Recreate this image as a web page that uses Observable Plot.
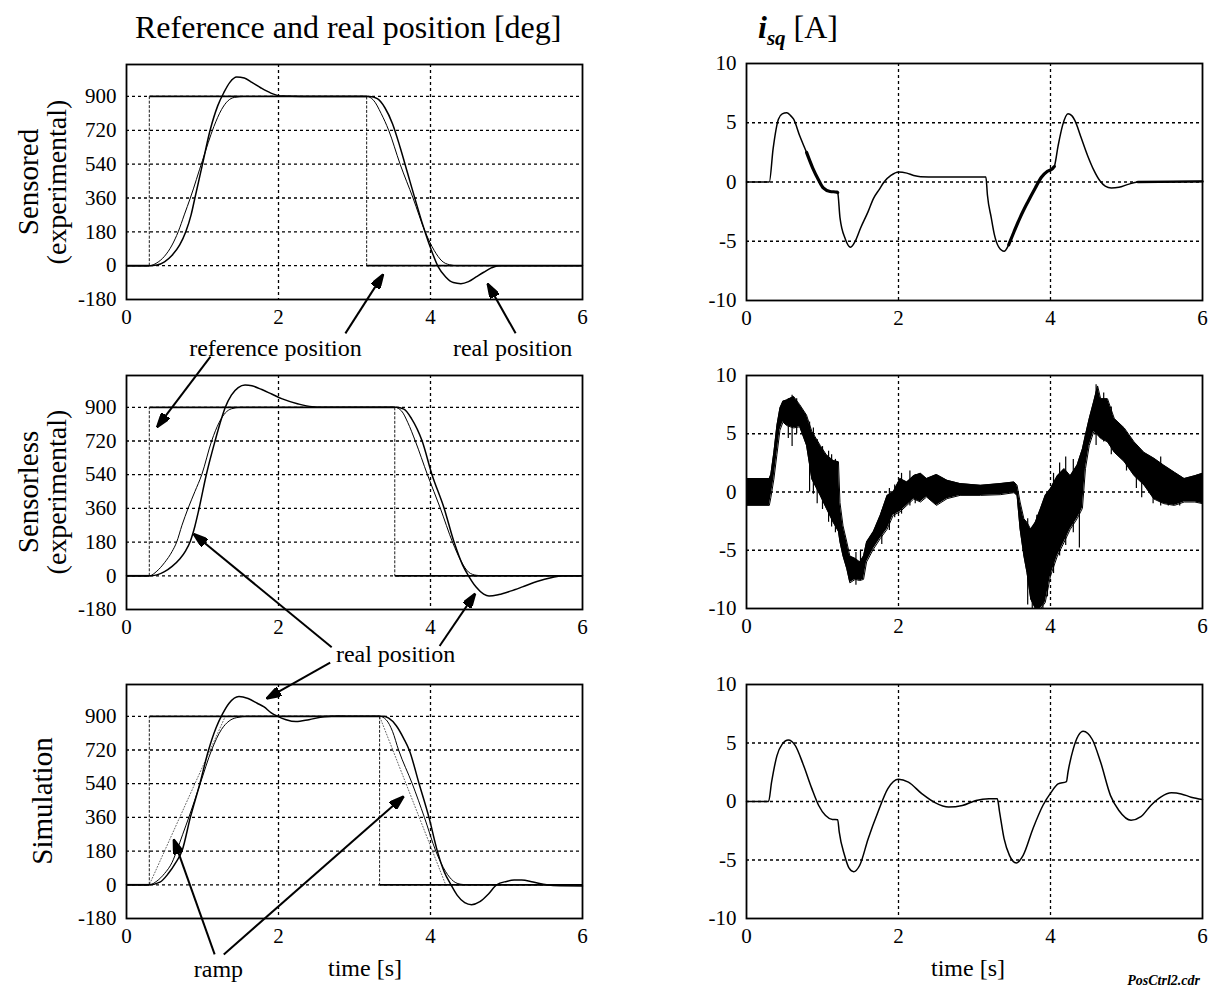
<!DOCTYPE html>
<html><head><meta charset="utf-8">
<script src="https://cdn.jsdelivr.net/npm/d3@7"></script>
<script src="https://cdn.jsdelivr.net/npm/@observablehq/plot@0.6"></script>
<style>
body{margin:0;background:#fff;}
#fig{position:relative;width:1219px;height:987px;background:#fff;font-family:"Liberation Serif","Times New Roman",serif;color:#000;overflow:hidden}
.abs{position:absolute;white-space:nowrap;line-height:1}
.rot{transform:translate(-50%,-50%) rotate(-90deg)}
</style></head><body><div id="fig"></div>
<script>
// ---------- data (time [s], value) ----------
const timeTicks = [0, 2, 4, 6];
const posTicks = [-180, 0, 180, 360, 540, 720, 900];
const posGrid = [0, 180, 360, 540, 720, 900];
const curTicks = [-10, -5, 0, 5, 10];
const curGrid = [-5, 0, 5];

// Sensored (experimental) position [deg]
const sensoredRef = [[0,0],[0.3,0],[0.3,900],[3.16,900],[3.16,0],[6,0]];
const sensoredEst = [[0,0],[0.3,0],[0.4,15],[0.5,50],[0.6,110],[0.68,180],[0.76,270],[0.84,360],[1.0,560],[1.15,740],[1.25,830],[1.33,875],[1.42,895],[1.55,900],[3.16,900],[3.25,880],[3.35,810],[3.45,720],[3.6,540],[3.77,360],[3.93,180],[4.05,80],[4.15,25],[4.25,5],[4.35,0],[6,0]];
const sensoredReal = [[0,0],[0.3,0],[0.4,3],[0.5,20],[0.6,55],[0.7,110],[0.78,180],[0.85,270],[0.9,360],[1.0,540],[1.1,720],[1.2,850],[1.28,920],[1.36,975],[1.45,1003],[1.55,998],[1.65,975],[1.77,945],[1.9,918],[2.05,902],[2.3,900],[3.2,900],[3.3,888],[3.4,840],[3.5,755],[3.6,630],[3.7,490],[3.8,350],[3.9,215],[4.0,95],[4.1,-5],[4.2,-60],[4.3,-90],[4.4,-96],[4.5,-85],[4.6,-60],[4.7,-35],[4.8,-12],[4.9,0],[6,0]];

// Sensorless (experimental) position [deg]
const sensorlessRef = [[0,0],[0.3,0],[0.3,900],[3.53,900],[3.53,0],[6,0]];
const sensorlessEst = [[0,0],[0.3,0],[0.4,25],[0.5,70],[0.6,130],[0.66,180],[0.73,270],[0.81,360],[0.9,450],[0.99,540],[1.12,720],[1.22,820],[1.3,870],[1.38,892],[1.5,900],[3.53,900],[3.62,880],[3.7,820],[3.8,720],[3.96,540],[4.13,360],[4.29,180],[4.4,80],[4.5,20],[4.6,3],[4.7,0],[6,0]];
const sensorlessReal = [[0,0],[0.3,0],[0.4,5],[0.5,22],[0.6,50],[0.7,90],[0.78,135],[0.84,185],[0.9,265],[0.95,350],[1.05,540],[1.165,720],[1.25,840],[1.3,900],[1.38,965],[1.47,1005],[1.56,1019],[1.65,1015],[1.78,995],[1.91,971],[2.05,945],[2.26,918],[2.44,903],[2.6,900],[3.55,900],[3.65,890],[3.75,840],[3.89,720],[4.02,540],[4.18,360],[4.31,180],[4.42,60],[4.5,0],[4.6,-60],[4.7,-98],[4.77,-108],[4.9,-100],[5.05,-82],[5.21,-59],[5.4,-30],[5.6,-9],[5.75,0],[6,0]];

// Simulation position [deg]
const simRef = [[0,0],[0.3,0],[0.3,900],[3.33,900],[3.33,0],[6,0]];
const simRamp = [[0,0],[0.3,0],[1.3,900],[3.33,900],[4.2,0],[6,0]];
const simEst = [[0,0],[0.3,0],[0.4,20],[0.5,60],[0.6,120],[0.66,180],[0.74,270],[0.82,360],[0.97,540],[1.12,720],[1.25,830],[1.35,875],[1.45,893],[1.6,900],[3.33,900],[3.42,880],[3.5,820],[3.58,720],[3.76,540],[3.92,360],[4.07,180],[4.2,70],[4.3,20],[4.4,3],[4.5,0],[6,0]];
const simReal = [[0,0],[0.3,0],[0.44,14],[0.55,60],[0.65,120],[0.73,180],[0.84,360],[0.965,540],[1.08,720],[1.18,840],[1.26,910],[1.35,970],[1.48,1006],[1.6,995],[1.72,970],[1.81,950],[1.9,920],[1.99,900],[2.1,882],[2.23,872],[2.4,882],[2.6,898],[2.8,902],[3.0,900],[3.38,900],[3.45,890],[3.55,850],[3.65,780],[3.72,720],[3.85,540],[3.98,360],[4.09,180],[4.18,70],[4.27,0],[4.35,-55],[4.45,-95],[4.54,-106],[4.65,-90],[4.76,-50],[4.87,0],[5.0,18],[5.1,25],[5.2,26],[5.35,15],[5.53,0],[5.7,-5],[6,-6]];

// Sensored i_sq [A]
const sensoredIsq = [[0,0],[0.3,0],[0.35,2.8],[0.42,5.3],[0.47,5.75],[0.53,5.85],[0.58,5.6],[0.62,5.3],[0.7,3.9],[0.79,2.5],[0.87,1.2],[0.95,0.15],[1.01,-0.5],[1.1,-0.8],[1.19,-0.85],[1.2,-0.9],[1.23,-3.0],[1.3,-4.8],[1.37,-5.5],[1.43,-5.0],[1.5,-3.9],[1.6,-2.5],[1.67,-1.4],[1.75,-0.6],[1.81,0],[1.9,0.55],[2.0,0.85],[2.11,0.75],[2.2,0.55],[2.29,0.45],[2.5,0.42],[3.15,0.42],[3.17,-1.1],[3.22,-3.0],[3.26,-4.4],[3.32,-5.5],[3.39,-5.85],[3.45,-5.3],[3.52,-4.2],[3.6,-3.0],[3.7,-1.7],[3.8,-0.5],[3.88,0.4],[3.96,0.9],[4.03,1.15],[4.05,1.3],[4.1,3.05],[4.16,4.8],[4.23,5.75],[4.28,5.6],[4.32,5.2],[4.4,3.8],[4.49,2.2],[4.57,1.0],[4.65,0.1],[4.72,-0.35],[4.8,-0.5],[4.9,-0.45],[5.02,-0.2],[5.15,0],[6,0.05]];
const sensoredNoisy = [[0.74,1.2,3.2],[3.45,4.05,3.2],[5.15,6,2.4]];

// Sensorless i_sq [A]: noisy band (lower / upper envelope) and spikes
const bandT  = [0,0.3,0.32,0.36,0.4,0.44,0.48,0.53,0.62,0.7,0.79,0.86,0.97,1.05,1.14,1.21,1.23,1.27,1.32,1.36,1.43,1.49,1.54,1.58,1.67,1.76,1.85,1.93,2.02,2.11,2.2,2.29,2.37,2.5,2.64,2.81,3.08,3.34,3.52,3.56,3.6,3.65,3.69,3.74,3.8,3.87,3.93,4.0,4.09,4.18,4.26,4.35,4.42,4.46,4.51,4.57,4.62,4.66,4.75,4.84,4.97,5.1,5.23,5.36,5.49,5.63,5.76,5.9,6.0];
const bandHi = [1.15,1.15,1.5,3.4,5.7,7.2,7.8,7.9,8.2,7.5,6.6,5.2,4.0,3.2,2.7,2.6,-0.9,-2.9,-4.3,-5.5,-5.7,-6.0,-5.5,-4.3,-3.4,-2.0,-0.3,0,1.15,0.86,1.4,1.6,1.15,1.5,1.0,0.72,0.57,0.72,0.86,0.57,-0.86,-2.3,-2.6,-3.2,-2.6,-1.4,-0.3,0.3,1.4,2.0,1.4,2.3,3.7,4.9,6.3,7.8,9.1,8.0,8.0,6.3,5.5,4.3,3.4,2.9,2.3,1.7,1.15,1.4,1.6];
const bandLo = [-1.15,-1.15,-0.5,1.1,3.2,5.3,6.0,5.7,5.5,5.6,4.0,1.1,-0.3,-1.4,-2.6,-3.4,-4.3,-5.5,-6.6,-7.8,-7.5,-7.6,-7.5,-6.0,-4.9,-4.0,-3.2,-2.0,-1.7,-1.15,-0.6,-0.86,-0.43,-1.15,-0.57,-0.29,-0.29,-0.23,-0.06,-0.3,-3.2,-5.5,-6.9,-9.2,-10,-10,-9.5,-7.2,-5.5,-4.3,-3.2,-2.3,-1.4,2.0,4.0,5.2,4.9,4.6,4.3,3.4,2.6,1.4,0.6,-0.6,-1.0,-1.15,-0.86,-0.86,-1.0];
const spikes = [[0.55,4.6,8.0],[0.6,3.9,8.3],[0.66,5.0,8.0],[0.83,0.0,6.0],[0.88,-0.2,5.5],[0.93,-1.0,4.5],[1.0,-1.5,3.9],[1.08,-2.6,3.5],[1.12,-3.0,3.2],[1.17,-3.5,2.8],[1.44,-8.0,-5.2],[1.5,-7.6,-5.0],[1.78,-4.5,-1.6],[1.88,-3.3,0.3],[1.95,-2.2,0.6],[2.04,-1.9,1.6],[2.15,-1.2,1.8],[2.22,-1.0,1.5],[3.7,-9.7,-2.3],[3.76,-10,-3.0],[3.82,-10,-2.0],[3.9,-10,-1.0],[3.96,-9.0,-0.1],[4.04,-7.0,1.6],[4.12,-5.5,2.5],[4.2,-4.6,3.0],[4.3,-3.5,2.8],[4.38,-4.8,2.4],[4.6,4.0,9.2],[4.7,4.3,8.5],[4.8,3.2,7.3],[5.0,1.8,4.5],[5.13,0.3,3.6],[5.2,-0.5,3.5],[5.35,-1.0,2.5],[5.45,-1.2,3.0],[5.55,-1.2,2.0],[5.7,-1.2,1.2]];

// Simulation i_sq [A]
const simIsq = [[0,0],[0.29,0],[0.33,1.65],[0.4,3.9],[0.47,4.9],[0.55,5.25],[0.64,4.8],[0.75,3.1],[0.86,1.1],[0.95,-0.34],[1.04,-1.2],[1.13,-1.53],[1.2,-1.55],[1.22,-2.6],[1.29,-4.6],[1.35,-5.7],[1.41,-6.0],[1.49,-5.45],[1.6,-3.2],[1.73,-0.9],[1.86,1.1],[2.0,1.9],[2.13,1.65],[2.31,0.65],[2.48,-0.1],[2.66,-0.48],[2.84,-0.34],[3.02,0.09],[3.19,0.23],[3.3,0.23],[3.33,-0.9],[3.39,-3.2],[3.46,-4.6],[3.55,-5.25],[3.64,-4.6],[3.77,-2.3],[3.9,-0.34],[4.01,0.8],[4.1,1.5],[4.21,1.7],[4.23,2.5],[4.3,4.5],[4.43,6.0],[4.55,5.3],[4.66,3.35],[4.79,0.5],[4.9,-0.77],[5.06,-1.6],[5.19,-1.3],[5.32,-0.34],[5.45,0.37],[5.59,0.74],[5.72,0.65],[5.85,0.37],[6.0,0.17]];

// Annotations in data coordinates of each panel: arrows [t1,v1,t2,v2] (tail -> tip), labels [t,v,text]
const sensoredArrows = [[2.88,-360,3.38,-45],[5.12,-360,4.75,-95]];
const sensoredLabels = [[1.96,-441,"reference position"],[5.08,-441,"real position"]];
const sensorlessArrows = [[1.105,1171,0.40,793],[2.70,-382,0.88,225],[4.12,-375,4.59,-94]];
const sensorlessLabels = [[3.54,-420,"real position"]];
const simArrows = [[2.68,1187,1.84,994],[1.16,-372,0.62,244],[1.28,-372,3.65,473]];
const simLabels = [[1.21,-452,"ramp"]];

// ---------- rendering ----------
const FONT = '"Liberation Serif","Times New Roman",serif';
const fig = document.getElementById("fig");
const pts = a => a.map(([t, v]) => ({t, v}));
const fmt = d => String(d);

function filledArrow(color) {
  const ns = "http://www.w3.org/2000/svg";
  const m = document.createElementNS(ns, "marker");
  m.setAttribute("viewBox", "-15 -5 15 10");
  m.setAttribute("markerWidth", 15);
  m.setAttribute("markerHeight", 10);
  m.setAttribute("markerUnits", "userSpaceOnUse");
  m.setAttribute("orient", "auto");
  m.setAttribute("refX", 0);
  m.setAttribute("refY", 0);
  const p = document.createElementNS(ns, "path");
  p.setAttribute("d", "M-15,-5L0,0L-15,5Z");
  p.setAttribute("fill", color === "currentColor" ? "#000" : color);
  m.appendChild(p);
  return m;
}

function annotationMarks(arrows, labels) {
  return [
    Plot.link(arrows.map(([t1, v1, t2, v2]) => ({t1, v1, t2, v2})), {x1: "t1", y1: "v1", x2: "t2", y2: "v2", stroke: "black", strokeWidth: 2, markerEnd: filledArrow}),
    Plot.text(labels.map(([t, v, text]) => ({t, v, text})), {x: "t", y: "v", text: "text", fontSize: 24, fontFamily: FONT, fill: "black", textAnchor: "middle", lineAnchor: "middle"})
  ];
}

function place(svg, left, top) {
  svg.style.position = "absolute";
  svg.style.left = left + "px";
  svg.style.top = top + "px";
  fig.appendChild(svg);
}

const MT = 40, MB = 80;
const CURVE = "monotone-x";

function leftPanel({frameTop, frameH, ref, est, real, ramp, arrows, labels}) {
  const segs = [];
  for (let i = 1; i < ref.length; i++) segs.push({t1: ref[i-1][0], v1: ref[i-1][1], t2: ref[i][0], v2: ref[i][1]});
  const marks = [
    Plot.ruleX([2, 4], {stroke: "black", strokeWidth: 1.3, strokeDasharray: "3,3"}),
    Plot.ruleY(posGrid, {stroke: "black", strokeWidth: 1.3, strokeDasharray: "3,3"}),
  ];
  if (ramp) marks.push(Plot.line(pts(ramp), {x: "t", y: "v", stroke: "#555", strokeWidth: 0.9, strokeDasharray: "1,2"}));
  marks.push(
    Plot.link(segs.filter(s => s.t1 === s.t2), {x1: "t1", y1: "v1", x2: "t2", y2: "v2", stroke: "black", strokeWidth: 0.9, strokeDasharray: "3,1.5"}),
    Plot.link(segs.filter(s => s.v1 === s.v2), {x1: "t1", y1: "v1", x2: "t2", y2: "v2", stroke: "black", strokeWidth: 1.8}),
    Plot.line(pts(est), {x: "t", y: "v", curve: CURVE, stroke: "black", strokeWidth: 1}),
    Plot.line(pts(real), {x: "t", y: "v", curve: CURVE, stroke: "black", strokeWidth: 1.5}),
    Plot.frame({stroke: "black", strokeWidth: 1.8}),
    Plot.axisX(timeTicks, {tickSize: 0, tickPadding: 10, fontSize: 21, label: null, tickFormat: fmt}),
    Plot.axisY(posTicks, {tickSize: 0, tickPadding: 10, fontSize: 21, label: null, tickFormat: fmt}),
    ...annotationMarks(arrows, labels)
  );
  const svg = Plot.plot({
    width: 600, height: frameH + MT + MB,
    marginLeft: 126, marginRight: 18, marginTop: MT, marginBottom: MB,
    style: {overflow: "visible", fontFamily: FONT, fontSize: "21px", background: "transparent", color: "black"},
    x: {domain: [0, 6], label: null},
    y: {domain: [-180, 1070], label: null},
    marks
  });
  place(svg, 0, frameTop - MT);
}

function rightPanel({frameTop, frameH, extra}) {
  const svg = Plot.plot({
    width: 619, height: frameH + MT + MB,
    marginLeft: 146, marginRight: 17, marginTop: MT, marginBottom: MB,
    style: {overflow: "visible", fontFamily: FONT, fontSize: "21px", background: "transparent", color: "black"},
    x: {domain: [0, 6], label: null},
    y: {domain: [-10, 10], label: null},
    marks: [
      Plot.ruleX([2, 4], {stroke: "black", strokeWidth: 1.3, strokeDasharray: "3,3"}),
      Plot.ruleY(curGrid, {stroke: "black", strokeWidth: 1.3, strokeDasharray: "3,3"}),
      ...extra,
      Plot.frame({stroke: "black", strokeWidth: 1.8}),
      Plot.axisX(timeTicks, {tickSize: 0, tickPadding: 10, fontSize: 21, label: null, tickFormat: fmt}),
      Plot.axisY(curTicks, {tickSize: 0, tickPadding: 10, fontSize: 21, label: null, tickFormat: fmt})
    ]
  });
  place(svg, 600, frameTop - MT);
}

// Left column
leftPanel({frameTop: 64, frameH: 235, ref: sensoredRef, est: sensoredEst, real: sensoredReal, arrows: sensoredArrows, labels: sensoredLabels});
leftPanel({frameTop: 375, frameH: 234, ref: sensorlessRef, est: sensorlessEst, real: sensorlessReal, arrows: sensorlessArrows, labels: sensorlessLabels});
leftPanel({frameTop: 684, frameH: 234, ref: simRef, est: simEst, real: simReal, ramp: simRamp, arrows: simArrows, labels: simLabels});

// Right column
const sIsq = pts(sensoredIsq);
rightPanel({frameTop: 63, frameH: 237, extra: [
  Plot.line(sIsq, {x: "t", y: "v", curve: CURVE, stroke: "black", strokeWidth: 1.5}),
  ...sensoredNoisy.map(([a, b, w]) => Plot.line(sIsq.filter(d => d.t >= a && d.t <= b), {x: "t", y: "v", curve: CURVE, stroke: "black", strokeWidth: w}))
]});
const band = bandT.map((t, i) => ({t, lo: bandLo[i], hi: bandHi[i]}));
rightPanel({frameTop: 375, frameH: 233, extra: [
  Plot.areaY(band, {x: "t", y1: "lo", y2: "hi", fill: "black"}),
  Plot.line(band, {x: "t", y: "hi", stroke: "black", strokeWidth: 1}),
  Plot.line(band, {x: "t", y: "lo", stroke: "black", strokeWidth: 1}),
  Plot.ruleX(spikes.map(([t, lo, hi]) => ({t, lo, hi})), {x: "t", y1: "lo", y2: "hi", stroke: "black", strokeWidth: 1.2})
]});
rightPanel({frameTop: 684, frameH: 234, extra: [
  Plot.line(pts(simIsq), {x: "t", y: "v", curve: CURVE, stroke: "black", strokeWidth: 1.5})
]});

// ---------- text outside the plots ----------
function addText(html, css, cls = "abs") {
  const d = document.createElement("div");
  d.className = cls;
  d.innerHTML = html;
  Object.assign(d.style, css);
  fig.appendChild(d);
}
addText("Reference and real position [deg]", {left: "135px", top: "11px", fontSize: "32px"});
addText('<b><i>i</i></b><i style="font-size:21px;position:relative;top:7px;font-weight:bold">sq</i> [A]', {left: "758px", top: "11px", fontSize: "32px"});
addText("Sensored", {left: "28px", top: "182px", fontSize: "29px"}, "abs rot");
addText("(experimental)", {left: "57px", top: "182px", fontSize: "28px"}, "abs rot");
addText("Sensorless", {left: "28px", top: "492px", fontSize: "29px"}, "abs rot");
addText("(experimental)", {left: "57px", top: "492px", fontSize: "28px"}, "abs rot");
addText("Simulation", {left: "42px", top: "801px", fontSize: "29px"}, "abs rot");
addText("time [s]", {left: "365px", top: "968px", fontSize: "24px", transform: "translate(-50%,-50%)"});
addText("time [s]", {left: "968px", top: "968px", fontSize: "24px", transform: "translate(-50%,-50%)"});
addText("<b><i>PosCtrl2.cdr</i></b>", {right: "19px", top: "974px", fontSize: "14px"});
</script></body></html>
